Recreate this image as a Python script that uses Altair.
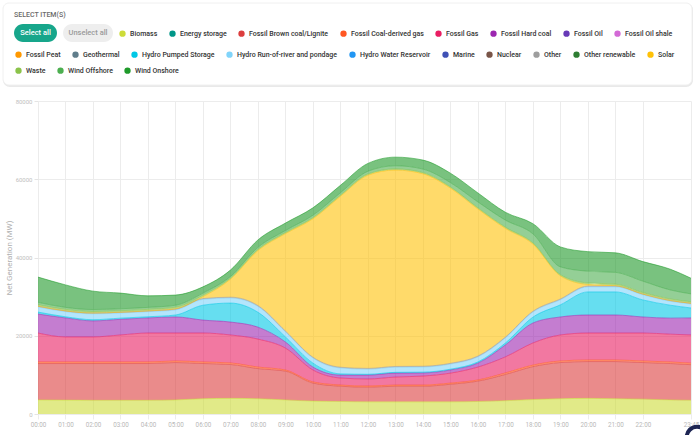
import altair as alt
import pandas as pd

# ---------------- data ----------------
hours = [0, 1, 2, 3, 4, 5, 6, 7, 8, 9, 10, 11, 12, 13, 14, 15, 16, 17, 18, 19, 20, 21, 22, 23, 23.75]

names = [
    "Biomass", "Energy storage", "Fossil Brown coal/Lignite", "Fossil Coal-derived gas",
    "Fossil Gas", "Fossil Hard coal", "Fossil Oil", "Fossil Oil shale", "Fossil Peat",
    "Geothermal", "Hydro Pumped Storage", "Hydro Run-of-river and pondage",
    "Hydro Water Reservoir", "Marine", "Nuclear", "Other", "Other renewable", "Solar",
    "Waste", "Wind Offshore", "Wind Onshore",
]
colors = [
    "#cddc39", "#009688", "#dc3e3e", "#ff5722",
    "#e91e63", "#9c27b0", "#673ab7", "#d36ad6", "#ff9800",
    "#607d8b", "#00c8e6", "#81d4fa",
    "#2196f3", "#3f51b5", "#795548", "#9e9e9e", "#2e7d32", "#ffc107",
    "#8bc34a", "#4caf50", "#1f9a2a",
]

legend_row1 = names[0:8]
legend_row2 = names[8:18]
legend_row3 = names[18:21]

biomass = [3600, 3550, 3500, 3500, 3500, 3600, 3900, 4000, 3900, 3600, 3300, 3200, 3100, 3100, 3100, 3100, 3200, 3400, 3700, 3900, 4000, 3900, 3800, 3600, 3500]
lignite = [9300, 9350, 9400, 9400, 9400, 9550, 9000, 8650, 7700, 7350, 4600, 3900, 3750, 4000, 4000, 4500, 5200, 6700, 8400, 9250, 9400, 9500, 9350, 9300, 9100]
coal_gas = [400, 400, 400, 400, 400, 400, 400, 400, 400, 300, 300, 300, 300, 300, 300, 300, 300, 400, 400, 400, 400, 400, 400, 400, 400]
fossil_gas = [7400, 6400, 6400, 6900, 7400, 7150, 7400, 7150, 7150, 5600, 3050, 1800, 1800, 2050, 2300, 2550, 3300, 4100, 5650, 6650, 6900, 6900, 7150, 7100, 7200]
hard_coal = [4850, 4850, 4100, 4000, 3850, 4100, 3300, 3300, 3050, 1550, 750, 750, 1000, 1000, 800, 800, 1000, 3050, 5100, 4600, 4600, 4600, 4100, 4100, 4350]
pumped = [500, 300, 300, 300, 300, 500, 3800, 4850, 3800, 1300, 1000, 300, 200, 200, 200, 200, 300, 500, 1500, 3100, 5900, 5900, 4350, 3300, 2550]
run_of_river = [1300, 1300, 1500, 1300, 1300, 1300, 1500, 1300, 1500, 1300, 1300, 1500, 1300, 1300, 1300, 1300, 1300, 1300, 1300, 1300, 1300, 1300, 1300, 1000, 1000]
other = [200, 200, 200, 200, 200, 200, 200, 200, 200, 200, 200, 200, 200, 200, 200, 200, 200, 200, 200, 200, 200, 200, 200, 200, 200]
solar = [0, 0, 0, 0, 0, 100, 500, 4600, 14100, 24900, 35400, 43700, 49400, 50200, 49200, 44800, 37600, 27800, 17200, 5900, 400, 100, 0, 0, 0]
waste = [400, 400, 400, 400, 400, 400, 400, 300, 300, 300, 300, 300, 300, 300, 300, 300, 300, 300, 300, 300, 400, 400, 400, 400, 400]
wind_offshore = [600, 500, 500, 500, 500, 500, 500, 400, 500, 500, 600, 600, 700, 800, 900, 1100, 1500, 1800, 2300, 2000, 3000, 3000, 2900, 2300, 2000]
wind_onshore = [6450, 5750, 4700, 4000, 2950, 2600, 1600, 1650, 1900, 1900, 1900, 1900, 2000, 2200, 2300, 2400, 2300, 2000, 2600, 5100, 5000, 5000, 5000, 5300, 4000]

series = {
    "Biomass": biomass,
    "Fossil Brown coal/Lignite": lignite,
    "Fossil Coal-derived gas": coal_gas,
    "Fossil Gas": fossil_gas,
    "Fossil Hard coal": hard_coal,
    "Hydro Pumped Storage": pumped,
    "Hydro Run-of-river and pondage": run_of_river,
    "Other": other,
    "Solar": solar,
    "Waste": waste,
    "Wind Offshore": wind_offshore,
    "Wind Onshore": wind_onshore,
}

x_ticks = [0, 1, 2, 3, 4, 5, 6, 7, 8, 9, 10, 11, 12, 13, 14, 15, 16, 17, 18, 19, 20, 21, 22, 23.75]
y_ticks = [0, 20000, 40000, 60000, 80000]

header_title = "SELECT ITEM(S)"
button_labels = ["Select all", "Unselect all"]

# ---------------- tables ----------------
rows = []
for name, vals in series.items():
    for t, v in zip(hours, vals):
        rows.append({"t": t, "source": name, "mw": v, "k": names.index(name)})
area_df = pd.DataFrame(rows)

legend_df = pd.DataFrame({
    "source": names,
    "row": [1] * len(legend_row1) + [2] * len(legend_row2) + [3] * len(legend_row3),
})

FONT = "Roboto"

label_expr = (
    "(floor(datum.value) < 10 ? '0' : '') + floor(datum.value) + ':' + "
    "(round((datum.value - floor(datum.value)) * 60) < 10 ? '0' : '') + "
    "round((datum.value - floor(datum.value)) * 60)"
)

areas = alt.Chart(area_df).mark_area(
    opacity=0.6, interpolate="monotone", line={"strokeWidth": 0.8, "opacity": 0.7}
).encode(
    x=alt.X(
        "t:Q",
        scale=alt.Scale(domain=[0, 23.75], nice=False, zero=False),
        axis=alt.Axis(
            values=x_ticks, labelExpr=label_expr, title=None, grid=True,
            gridColor="#ececec", domain=False, tickColor="#ececec", tickSize=5,
            labelColor="#b8b8b8", labelFontSize=6.3, labelFont=FONT, labelPadding=2,
            labelOverlap=False, labelFlush=False,
        ),
    ),
    y=alt.Y(
        "mw:Q", stack="zero",
        scale=alt.Scale(domain=[0, 80000], nice=False),
        axis=alt.Axis(
            values=y_ticks, format="d", title="Net Generation (MW)", grid=True,
            gridColor="#ececec", domain=False, tickColor="#e4e4e4", tickSize=4,
            labelColor="#c0c0c0", labelFontSize=6, labelFont=FONT, labelPadding=2,
            titleColor="#b0b0b0", titleFontSize=8, titleFont=FONT,
            titleFontWeight="normal", titlePadding=2,
        ),
    ),
    color=alt.Color("source:N", scale=alt.Scale(domain=names, range=colors), legend=None),
    order=alt.Order("k:Q", sort="ascending"),
)


def legend_layer(row_names, row_id, lx, ly):
    row_colors = [colors[names.index(n)] for n in row_names]
    return alt.Chart(legend_df).transform_filter(
        alt.datum.row == row_id
    ).mark_point(filled=True, opacity=0).encode(
        color=alt.Color(
            "source:N",
            scale=alt.Scale(domain=row_names, range=row_colors),
            legend=alt.Legend(
                orient="none", legendX=lx, legendY=ly, direction="horizontal",
                title=None, symbolType="circle", symbolSize=40, symbolStrokeWidth=0,
                symbolOpacity=1, labelFont=FONT, labelFontSize=7, labelColor="#333333",
                labelFontWeight=500, columnPadding=11, labelOffset=4, padding=0,
                rowPadding=0,
            ),
        )
    )


OX, OY = 38, 101  # plot origin on page

deco_df = pd.DataFrame({"a": [0]})
shadow = alt.Chart(deco_df).mark_rect(cornerRadius=7, color="#e9e9e9").encode(
    x=alt.value(3 - OX), x2=alt.value(693 - OX), y=alt.value(3 - OY), y2=alt.value(87 - OY)
)
box = alt.Chart(deco_df).mark_rect(cornerRadius=6, color="#ffffff", stroke="#f0f0f0").encode(
    x=alt.value(3 - OX), x2=alt.value(692 - OX), y=alt.value(3 - OY), y2=alt.value(85 - OY)
)
title_txt = alt.Chart(deco_df).mark_text(
    align="left", baseline="middle", font=FONT, fontSize=7, color="#6a6a6a", fontWeight=500
).encode(x=alt.value(14 - OX), y=alt.value(15 - OY), text=alt.value(header_title))
btn1 = alt.Chart(deco_df).mark_rect(cornerRadius=9, color="#17a68b").encode(
    x=alt.value(14 - OX), x2=alt.value(57 - OX), y=alt.value(24 - OY), y2=alt.value(42 - OY)
)
btn2 = alt.Chart(deco_df).mark_rect(cornerRadius=9, color="#eeeeee").encode(
    x=alt.value(63 - OX), x2=alt.value(113 - OX), y=alt.value(24 - OY), y2=alt.value(42 - OY)
)
btn1_txt = alt.Chart(deco_df).mark_text(
    align="center", baseline="middle", font=FONT, fontSize=7.5, color="#ffffff", fontWeight=500
).encode(x=alt.value(35.5 - OX), y=alt.value(33 - OY), text=alt.value(button_labels[0]))
btn2_txt = alt.Chart(deco_df).mark_text(
    align="center", baseline="middle", font=FONT, fontSize=7.5, color="#9a9a9a", fontWeight=500
).encode(x=alt.value(88 - OX), y=alt.value(33 - OY), text=alt.value(button_labels[1]))
fab = alt.Chart(deco_df).mark_point(
    shape="circle", filled=False, stroke="#1d2553", strokeWidth=4, size=420, opacity=1
).encode(x=alt.value(697 - OX), y=alt.value(437 - OY))

leg1 = legend_layer(legend_row1, 1, 119 - OX, 30 - OY)
leg2 = legend_layer(legend_row2, 2, 15 - OX, 51 - OY)
leg3 = legend_layer(legend_row3, 3, 15 - OX, 67 - OY)

chart = alt.layer(
    shadow, box, title_txt, btn1, btn2, btn1_txt, btn2_txt,
    areas, fab, leg1, leg2, leg3,
).resolve_scale(color="independent").properties(
    width=653, height=313, autosize="none",
    padding={"left": OX, "top": OY, "right": 9, "bottom": 21},
    background="#ffffff",
).configure_view(stroke=None)

chart.save("out.html", embed_options={"renderer": "svg", "actions": False})
